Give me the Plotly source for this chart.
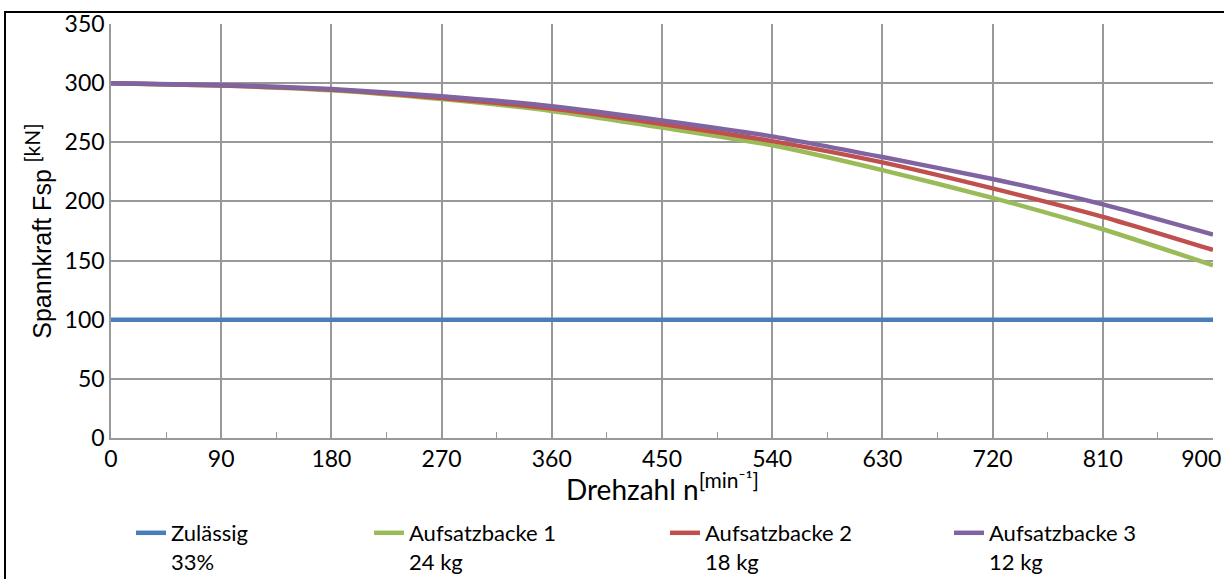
import plotly.graph_objects as go

drehzahl = [0, 90, 180, 270, 360, 450, 540, 630, 720, 810, 900]
zulaessig = [100, 100, 100, 100, 100, 100, 100, 100, 100, 100, 100]
backe1 = [300, 298, 294, 286.5, 276.5, 262.5, 247.5, 226.5, 203, 176.5, 146]
backe2 = [300, 298, 294.5, 287.5, 278.5, 265.5, 251, 233, 211, 187, 159]
backe3 = [300, 298.5, 295, 289, 280.5, 268.5, 255, 237.5, 219, 197.5, 172]

x_ticks = [0, 90, 180, 270, 360, 450, 540, 630, 720, 810, 900]
x_ticktext = ["0", "90", "180", "270", "360", "450", "540", "630", "720", "810", "900\u00a0\u00a0\u00a0\u00a0"]
y_ticks = [0, 50, 100, 150, 200, 250, 300, 350]

names = ["Zulässig<br>33%", "Aufsatzbacke 1<br>24 kg", "Aufsatzbacke 2<br>18 kg", "Aufsatzbacke 3<br>12 kg"]
colors = ["#4A7EBB", "#9BBB59", "#C0504D", "#8064A2"]
series = [zulaessig, backe1, backe2, backe3]
legend_ids = ["legend", "legend2", "legend3", "legend4"]
legend_x_px = [131, 369, 665, 949]

L, R, T, B = 111, 11, 24, 141
W, H = 1224, 579
pw, ph = W - L - R, H - T - B

fig = go.Figure()
for vals, name, col, lid in zip(series, names, colors, legend_ids):
    fig.add_trace(go.Scatter(
        x=drehzahl, y=vals, mode="lines", name=name,
        line=dict(color=col, width=4.5, shape="spline", smoothing=0.6),
        legend=lid, showlegend=True, cliponaxis=False,
    ))

font_main = "Lato, 'Open Sans', sans-serif"

legend_common = dict(
    orientation="h", yanchor="top", xanchor="left",
    font=dict(family=font_main, size=22, color="#000"),
    bgcolor="rgba(0,0,0,0)", valign="top", itemwidth=30,
)
layout_legends = {}
for lid, xp in zip(legend_ids, legend_x_px):
    layout_legends[lid] = dict(legend_common, x=(xp - L) / pw, y=(438 - 512) / ph)

fig.update_layout(
    width=W, height=H,
    margin=dict(l=L, r=R, t=T, b=B, autoexpand=False),
    paper_bgcolor="white", plot_bgcolor="white",
    font=dict(family=font_main, color="#000"),
    **layout_legends,
)

fig.update_xaxes(
    range=[0, 900], tickvals=x_ticks, ticktext=x_ticktext,
    showgrid=True, gridcolor="#999999", gridwidth=1.5,
    showline=True, linecolor="#999999", linewidth=1.5,
    ticks="", tickfont=dict(family=font_main, size=23, color="#000"),
    ticklabeloverflow="allow",
    minor=dict(tickvals=list(range(45, 900, 90)), ticks="inside", ticklen=6, tickcolor="#999999", showgrid=False),
    zeroline=False,
)
fig.update_yaxes(
    range=[0, 350], tickvals=y_ticks,
    showgrid=True, gridcolor="#999999", gridwidth=1.5,
    showline=True, linecolor="#999999", linewidth=1.5,
    ticks="", tickfont=dict(family=font_main, size=23, color="#000"),
    title=dict(text="<span style='font-family:Liberation Sans'>Spannkraft Fsp</span> <sup><span style='font-size:21px'>[kN]</span></sup>",
               font=dict(family=font_main, size=25, color="#000"), standoff=6),
    zeroline=False,
)

# x-axis title placed directly below the tick labels
fig.add_annotation(
    text="Drehzahl n<sup><span style='font-size:21px'>[min⁻¹]</span></sup>",
    xref="paper", yref="paper", x=(662 - L) / pw, y=(438 - 486) / ph,
    xanchor="center", yanchor="middle", showarrow=False,
    font=dict(family=font_main, size=28, color="#000"),
)

# outer frame of the figure
fig.add_shape(type="rect", xref="paper", yref="paper",
              x0=(5 - L) / pw, x1=(1240 - L) / pw,
              y0=(438 - 600) / ph, y1=(438 - 12) / ph,
              line=dict(color="#000", width=2), fillcolor="rgba(0,0,0,0)", layer="below")

fig.write_html("out.html", config={"displayModeBar": False},
               post_script="document.body.style.margin='0';document.body.style.overflow='hidden';")
